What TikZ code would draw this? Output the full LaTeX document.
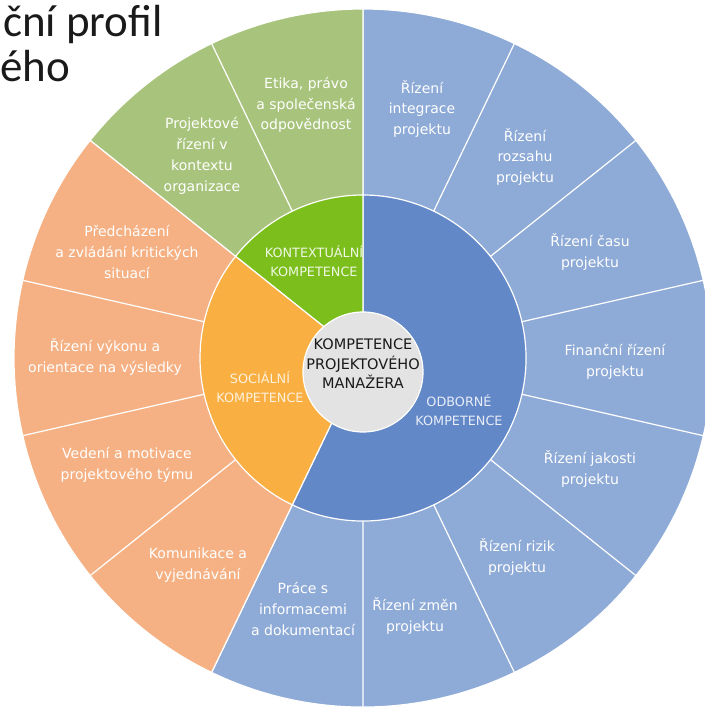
\documentclass[tikz,border=0pt]{standalone}
\usepackage{fontspec}
\setmainfont{DejaVu Sans}
\newfontfamily\titlefont{Carlito}
\usepackage{xcolor}
\usepackage{tikz}
\definecolor{kmBlueLt}{HTML}{8EAAD6}
\definecolor{kmBlue}{HTML}{6288C8}
\definecolor{kmGreenLt}{HTML}{A8C47C}
\definecolor{kmGreen}{HTML}{7CBF1C}
\definecolor{kmOrangeLt}{HTML}{F5B183}
\definecolor{kmOrange}{HTML}{F9AF41}
\definecolor{kmGrey}{HTML}{E3E3E3}
\definecolor{kmInk}{HTML}{1A1A1A}

\begin{document}
\begin{tikzpicture}[
  x=1pt, y=1pt,
  seg/.style={draw=white, line width=1.2pt},
  lbl/.style={font=\fontsize{14}{20.8}\selectfont, text=white, align=center, inner sep=0pt},
  core/.style={font=\fontsize{12.8}{18.5}\selectfont, align=center, inner sep=0pt}]

\useasboundingbox (-363,-350) rectangle (341,358);

% outer ring
\fill[seg, fill=kmBlueLt] (0,0) -- (-115.71:349pt) arc[start angle=-115.71, end angle=90, radius=349pt] -- cycle;
\fill[seg, fill=kmGreenLt] (0,0) -- (90:349pt) arc[start angle=90, end angle=141.43, radius=349pt] -- cycle;
\fill[seg, fill=kmOrangeLt] (0,0) -- (141.43:349pt) arc[start angle=141.43, end angle=244.29, radius=349pt] -- cycle;
\draw[seg] (64.29:163pt) -- (64.29:349pt) (38.57:163pt) -- (38.57:349pt)
  (12.86:163pt) -- (12.86:349pt) (-12.86:163pt) -- (-12.86:349pt)
  (-38.57:163pt) -- (-38.57:349pt) (-64.29:163pt) -- (-64.29:349pt)
  (-90:163pt) -- (-90:349pt) (115.71:163pt) -- (115.71:349pt)
  (167.14:163pt) -- (167.14:349pt) (192.86:163pt) -- (192.86:349pt)
  (218.57:163pt) -- (218.57:349pt);

% inner ring
\fill[seg, fill=kmBlue] (0,0) -- (-115.71:163pt) arc[start angle=-115.71, end angle=90, radius=163pt] -- cycle;
\fill[seg, fill=kmGreen] (0,0) -- (90:163pt) arc[start angle=90, end angle=141.43, radius=163pt] -- cycle;
\fill[seg, fill=kmOrange] (0,0) -- (141.43:163pt) arc[start angle=141.43, end angle=244.29, radius=163pt] -- cycle;
\fill[seg, fill=kmGrey] (0,-14) circle[radius=60pt];

\node[core, font=\fontsize{14.5}{19.5}\selectfont, text=kmInk] (pm) at (0,-6) {KOMPETENCE\\ PROJEKTOVÉHO\\ MANAŽERA};
\node[core, text=white!88!kmGreen] (ctx) at (-49,97) {KONTEXTUÁLNÍ\\ KOMPETENCE};
\node[core, text=white!82!kmOrange] (soc) at (-103,-29) {SOCIÁLNÍ\\ KOMPETENCE};
\node[core, text=white!85!kmBlue] (odb) at (96,-52) {ODBORNÉ\\ KOMPETENCE};

\node[lbl] (integ) at (59,249) {Řízení\\ integrace\\ projektu};
\node[lbl] (rozsah) at (162,201) {Řízení\\ rozsahu\\ projektu};
\node[lbl] (cas) at (227,106) {Řízení času\\ projektu};
\node[lbl] (fin) at (252,-4) {Finanční řízení\\ projektu};
\node[lbl] (jakost) at (227,-111) {Řízení jakosti\\ projektu};
\node[lbl] (rizik) at (154,-199) {Řízení rizik\\ projektu};
\node[lbl] (zmeny) at (52,-258) {Řízení změn\\ projektu};
\node[lbl] (info) at (-60,-251) {Práce s\\ informacemi\\ a dokumentací};
\node[lbl] (komun) at (-165,-207) {Komunikace a\\ vyjednávání};
\node[lbl] (tym) at (-236,-107) {Vedení a motivace\\ projektového týmu};
\node[lbl] (vykon) at (-258,1) {Řízení výkonu a\\ orientace na výsledky};
\node[lbl] (krize) at (-236,106) {Předcházení\\ a zvládání kritických\\ situací};
\node[lbl] (org) at (-161,202) {Projektové\\ řízení v\\ kontextu\\ organizace};
\node[lbl] (etika) at (-57,253) {Etika, právo\\ a společenská\\ odpovědnost};

\node[anchor=base west, inner sep=0pt, text=kmInk, font=\titlefont\fontsize{45}{46}\selectfont] (tit1) at (-360,321) {ční profil};
\node[anchor=base west, inner sep=0pt, text=kmInk, font=\titlefont\fontsize{45}{46}\selectfont] (tit2) at (-363,276) {ého};
\end{tikzpicture}
\end{document}
